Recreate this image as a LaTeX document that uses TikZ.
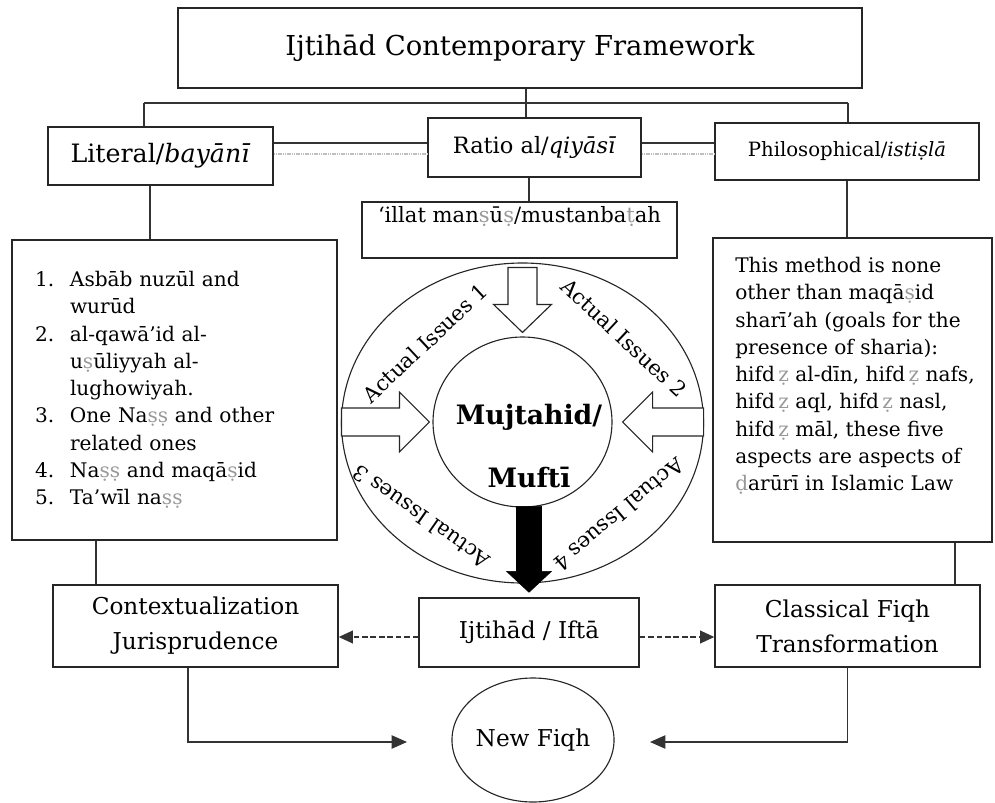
\documentclass[tikz,border=0pt]{standalone}
\usepackage{fontspec}
\setmainfont{DejaVu Serif}
\usepackage{xcolor}
\usepackage{tikz}
\usetikzlibrary{shapes.geometric, arrows.meta, shadows, positioning}

\newcommand{\pxu}{*0.025cm}
\newcommand{\gr}[1]{\textcolor{black!40}{#1}}
\newcommand{\itm}[1]{\makebox[0.875cm][l]{#1}}
\newcommand{\fatarrow}[7]{%
  \draw[#1, shift={#2}, rotate=#3] (0,0) -- (-#7,#6) -- (-#7,#5) -- (-#4,#5)
    -- (-#4,-#5) -- (-#7,-#5) -- (-#7,-#6) -- cycle;}

\begin{document}
\begin{tikzpicture}[
        x=0.025cm, y=-0.025cm,
        every node/.style={font=\fontsize{16.5}{25}\selectfont},
        box/.style={draw=black!85, line width=1pt, fill=white, inner sep=0pt, align=center,
            drop shadow={shadow xshift=0.7pt, shadow yshift=-0.7pt, fill=black!40}},
        ring/.style={draw=black!85, line width=0.8pt, ellipse, inner sep=0pt},
        conn/.style={draw=black!80, line width=1pt},
        ghost/.style={draw=black!25, line width=2pt, dash pattern=on 1pt off 0.6pt},
        dasharrow/.style={conn, dash pattern=on 4pt off 2pt, -{Triangle[length=10pt, width=9pt]}},
        arrow/.style={conn, -{Triangle[length=11pt, width=9.5pt]}},
        hollow/.style={draw=black!85, line width=0.8pt, fill=white},
        blackarr/.style={draw=black, fill=black},
        issue/.style={font=\fontsize{15}{17}\selectfont}
    ]
    \useasboundingbox (0,0) rectangle (995,803);

    % Nodes -----------------------------------------------
    \node[box, minimum width=684\pxu, minimum height=80\pxu, font=\fontsize{19.5}{24}\selectfont] (title) at (520,48) {Ijtihād Contemporary Framework};
    \node[box, minimum width=225\pxu, minimum height=58\pxu, font=\fontsize{18}{22}\selectfont] (lit) at (160.5,156) {Literal/\textit{bayānī}};
    \node[box, minimum width=213\pxu, minimum height=59\pxu, font=\fontsize{16}{20}\selectfont] (rat) at (534.5,147.5) {Ratio al/\textit{qiyāsī}};
    \node[box, minimum width=264\pxu, minimum height=57\pxu, font=\fontsize{14}{18}\selectfont] (phil) at (847,151.5) {Philosophical/\textit{istiṣlā}};
    \node[box, minimum width=315\pxu, minimum height=56\pxu, text height=20\pxu, text depth=36\pxu, font=\fontsize{15}{20}\selectfont] (illat) at (519.5,230) {‘illat man\gr{ṣ}ū\gr{ṣ}/mustanba\gr{ṭ}ah};

    \node[box, align=left, minimum width=325\pxu, minimum height=300\pxu, text width=279\pxu, font=\fontsize{14.3}{19.4}\selectfont] (proc) at (174.5,390) {%
        \itm{1.}Asbāb nuzūl and\\
        \hspace*{0.875cm}wurūd\\
        \itm{2.}al-qawā’id al-\\
        \hspace*{0.875cm}u\gr{ṣ}ūliyyah al-\\
        \hspace*{0.875cm}lughowiyah.\\
        \itm{3.}One Na\gr{ṣṣ} and other\\
        \hspace*{0.875cm}related ones\\
        \itm{4.}Na\gr{ṣṣ} and maqā\gr{ṣ}id\\
        \itm{5.}Ta’wīl na\gr{ṣṣ}};
    \node[box, minimum width=279\pxu, minimum height=304\pxu] (maq) at (852.5,390) {};
    \node[align=left, font=\fontsize{14.3}{19.4}\selectfont] (maqtxt) at (855,376) {%
        This method is none\\
        other than maqā\gr{ṣ}id\\
        sharī’ah (goals for the\\
        presence of sharia):\\
        hifd\,\gr{ẓ} al-dīn, hifd\,\gr{ẓ} nafs,\\
        hifd\,\gr{ẓ} aql, hifd\,\gr{ẓ} nasl,\\
        hifd\,\gr{ẓ} māl, these five\\
        aspects are aspects of\\
        \gr{ḍ}arūrī in Islamic Law};

    \node[ring, minimum width=362\pxu, minimum height=320\pxu] (issues) at (522.5,423) {};
    \node[ring, minimum width=179\pxu, minimum height=170\pxu] (mufti) at (522.5,422) {};
    \node[align=center, font=\bfseries\fontsize{19}{45}\selectfont] (muftitxt) at (529,446) {Mujtahid/\\Muftī};
    \node[issue, rotate=43]  (ai1) at (425,343) {Actual Issues 1};
    \node[issue, rotate=-43] (ai2) at (624,338) {Actual Issues 2};
    \node[issue, rotate=145] (ai3) at (421,517) {Actual Issues 3};
    \node[issue, rotate=220] (ai4) at (619,515) {Actual Issues 4};

    \node[box, minimum width=285\pxu, minimum height=82\pxu] (ctx) at (195.5,626) {Contextualization\\Jurisprudence};
    \node[box, minimum width=220\pxu, minimum height=69\pxu] (ijt) at (529,632.5) {Ijtihād / Iftā};
    \node[box, minimum width=265\pxu, minimum height=82\pxu] (cls) at (847.5,626) {Classical Fiqh\\Transformation};
    \node[ring, minimum width=150\pxu, minimum height=124\pxu] (fiqh) at (533,740) {New Fiqh};

    % helper points
    \coordinate (tl) at (144,103);
    \coordinate (tr) at (848,103);
    \coordinate (hub) at (526,103);
    \coordinate (solidrow) at (0,143);
    \coordinate (dotrow) at (0,154);
    \coordinate (drow) at (0,637);
    \coordinate (rx) at (529,0);
    \coordinate (lx) at (150,0);
    \coordinate (px) at (96,0);
    \coordinate (qx) at (955,0);
    \coordinate (cx) at (188,0);
    \coordinate (inL) at (407,742);
    \coordinate (inR) at (650,742);

      % framework tree
      \draw[conn] (tl) -- (tr);
      \draw[conn] (title.south -| hub) -- (rat.north -| hub);
      \draw[conn] (tl) -- (lit.north -| tl);
      \draw[conn] (tr) -- (phil.north -| tr);

      % links between the three methods
      \draw[conn] (lit.east |- solidrow) -- (rat.west |- solidrow);
      \draw[conn] (rat.east |- solidrow) -- (phil.west |- solidrow);
      \draw[ghost] (lit.east |- dotrow) -- (rat.west |- dotrow);
      \draw[ghost] (rat.east |- dotrow) -- (phil.west |- dotrow);

      % methods down to their contents
      \draw[conn] (rat.south -| rx) -- (illat.north -| rx);
      \draw[conn] (lit.south -| lx) -- (proc.north -| lx);
      \draw[conn] (phil.south) -- (maq.north -| phil.south);
      \draw[conn] (proc.south -| px) -- (ctx.north -| px);
      \draw[conn] (maq.south -| qx) -- (cls.north -| qx);

      % issues into the mujtahid
      \fatarrow{hollow}{([yshift=0.1cm]mufti.north)}{-90}{65}{14.5}{29}{28}
      \fatarrow{hollow}{([xshift=-0.075cm]mufti.west)}{0}{88}{14}{30}{30}
      \fatarrow{hollow}{([xshift=0.25cm]mufti.east)}{180}{81}{14}{30}{30}
      \fatarrow{blackarr}{([yshift=0.125cm]ijt.north)}{-90}{86}{12.5}{22.5}{21}

      % outputs
      \draw[dasharrow] (ijt.west |- drow) -- (ctx.east |- drow);
      \draw[dasharrow] (ijt.east |- drow) -- (cls.west |- drow);
      \draw[arrow] (ctx.south -| cx) |- (inL);
      \draw[arrow] (cls.south) |- (inR);
\end{tikzpicture}
\end{document}
